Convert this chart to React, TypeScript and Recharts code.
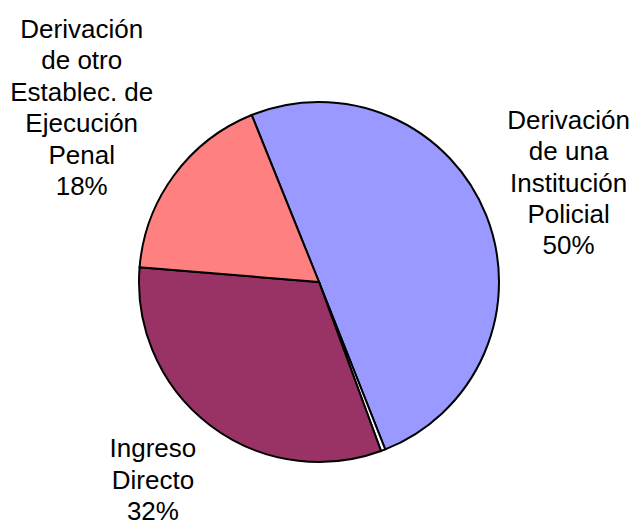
import { Cell, Pie, PieChart } from "recharts";

const categories = [
  "Derivación\nde una\nInstitución\nPolicial",
  "Otros",
  "Ingreso\nDirecto",
  "Derivación\nde otro\nEstablec. de\nEjecución\nPenal",
];
const shares = [50.1, 0.4, 31.9, 17.6];
const colors = ["#9999FF", "#FFFFFF", "#993366", "#FF8080"];

const data = categories.map((name, i) => ({ name, value: shares[i] }));

const FONT_SIZE = 26;
const LINE_HEIGHT = 31.4;
const GAP = 5;
const FONT_FAMILY = '"Liberation Sans", Arial, sans-serif';

let ctx: CanvasRenderingContext2D | null = null;
function textWidth(s: string): number {
  if (!ctx) ctx = document.createElement("canvas").getContext("2d");
  if (!ctx) return s.length * FONT_SIZE * 0.5;
  ctx.font = `${FONT_SIZE}px ${FONT_FAMILY}`;
  return ctx.measureText(s).width;
}

// label block sits outside the slice, pushed out along the mid angle until it clears the rim
function SliceLabel(props: any) {
  const { cx, cy, midAngle, outerRadius, percent, name } = props;
  if (percent < 0.01) return null;
  const lines = [...String(name).split("\n"), `${Math.round(percent * 100)}%`];
  const halfW = Math.max(...lines.map(textWidth)) / 2;
  const capH = FONT_SIZE * 0.716;
  const halfH = ((lines.length - 1) * LINE_HEIGHT + capH) / 2;
  const cos = Math.cos((-midAngle * Math.PI) / 180);
  const sin = Math.sin((-midAngle * Math.PI) / 180);
  // labels under the pie sit a bit further out and to the side
  const below = Math.max(0, sin);
  const gap = GAP + 5.4 * below;
  const r = outerRadius + gap + halfW * Math.abs(cos) + halfH * Math.abs(sin);
  const x = cx + r * cos + Math.sign(cos) * 20 * below;
  const y = cy + r * sin;
  const firstBaseline = y - halfH + capH;
  return (
    <text
      x={x}
      y={firstBaseline}
      textAnchor="middle"
      fontFamily={FONT_FAMILY}
      fontSize={FONT_SIZE}
      fill="#000"
    >
      {lines.map((line, i) => (
        <tspan key={i} x={x} y={firstBaseline + i * LINE_HEIGHT}>
          {line}
        </tspan>
      ))}
    </text>
  );
}

const START = 111.95;

export default function App() {
  return (
    <div style={{ position: "absolute", left: 0, top: 0, background: "#fff" }}>
      <PieChart width={632} height={521} margin={{ top: 0, right: 0, bottom: 0, left: 0 }}>
        <Pie
          data={data}
          dataKey="value"
          nameKey="name"
          cx={319}
          cy={282}
          outerRadius={180}
          startAngle={START}
          endAngle={START - 360}
          stroke="#000"
          strokeWidth={2}
          label={SliceLabel}
          labelLine={false}
          isAnimationActive={false}
        >
          {data.map((d, i) => (
            <Cell key={d.name} fill={colors[i]} />
          ))}
        </Pie>
      </PieChart>
    </div>
  );
}
